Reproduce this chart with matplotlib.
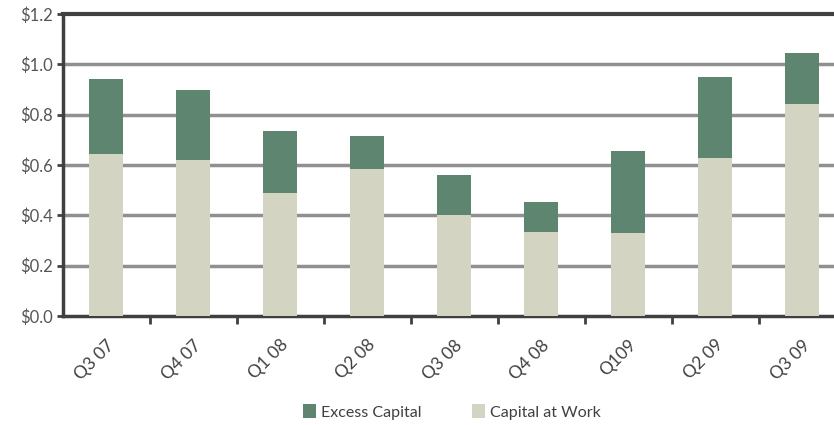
import numpy as np
import matplotlib.pyplot as plt
from matplotlib.ticker import FixedLocator

quarters = ['Q3 07', 'Q4 07', 'Q1 08', 'Q2 08', 'Q3 08', 'Q4 08', 'Q109', 'Q2 09', 'Q3 09']
capital_at_work = [0.644, 0.62, 0.49, 0.585, 0.40, 0.334, 0.329, 0.627, 0.842]
total_capital = [0.942, 0.90, 0.735, 0.715, 0.56, 0.453, 0.654, 0.951, 1.046]
excess_capital = [t - w for t, w in zip(total_capital, capital_at_work)]
y_ticks = [0.0, 0.2, 0.4, 0.6, 0.8, 1.0, 1.2]

plt.rcParams['font.family'] = ['Lato', 'DejaVu Sans']

fig = plt.figure(figsize=(8.34, 4.25), dpi=100)
ax = fig.add_axes([62.5 / 834, 109 / 425, 1 - 62.5 / 834, (316 - 14) / 425])

x = np.arange(len(quarters))
ax.bar(x, capital_at_work, width=0.4, color='#d3d4c2', zorder=3, label='Capital at Work')
ax.bar(x, excess_capital, width=0.4, bottom=capital_at_work, color='#5e8570', zorder=3,
       label='Excess Capital')

ax.set_xlim(-0.5, (834 - 62.5) / 87 - 0.5)
ax.set_ylim(0, 1.2)
ax.set_yticks(y_ticks)
ax.set_yticklabels(['${:.1f}'.format(v) for v in y_ticks])
for v in y_ticks[1:-1]:
    ax.axhline(v, color='#909090', linewidth=2.5, zorder=1)

ax.set_xticks(x)
ax.set_xticklabels(quarters, rotation=45, ha='right', rotation_mode='anchor')
ax.xaxis.set_minor_locator(FixedLocator(x[:-1] + 0.5))
ax.tick_params(axis='x', which='major', length=0, pad=15, labelsize=12.5, labelcolor='#404040')
ax.tick_params(axis='x', which='minor', length=6, width=2, color='#404040')
ax.tick_params(axis='y', length=4, width=2, color='#404040', labelsize=12,
               labelcolor='#555555', pad=3)

for side in ['left', 'bottom', 'top']:
    ax.spines[side].set_color('#404040')
ax.spines['left'].set_linewidth(2.5)
ax.spines['bottom'].set_linewidth(2.5)
ax.spines['top'].set_linewidth(3)
ax.spines['right'].set_visible(False)

handles, labels = ax.get_legend_handles_labels()
leg = fig.legend(handles[::-1], labels[::-1], loc='center', bbox_to_anchor=(452 / 834, 1 - 412 / 425),
                 ncol=2, frameon=False, fontsize=11.5, handlelength=0.8, handleheight=0.9,
                 handletextpad=0.3, columnspacing=3.2)
for t in leg.get_texts():
    t.set_color('#404040')

fig.savefig('out.png', dpi=100)
